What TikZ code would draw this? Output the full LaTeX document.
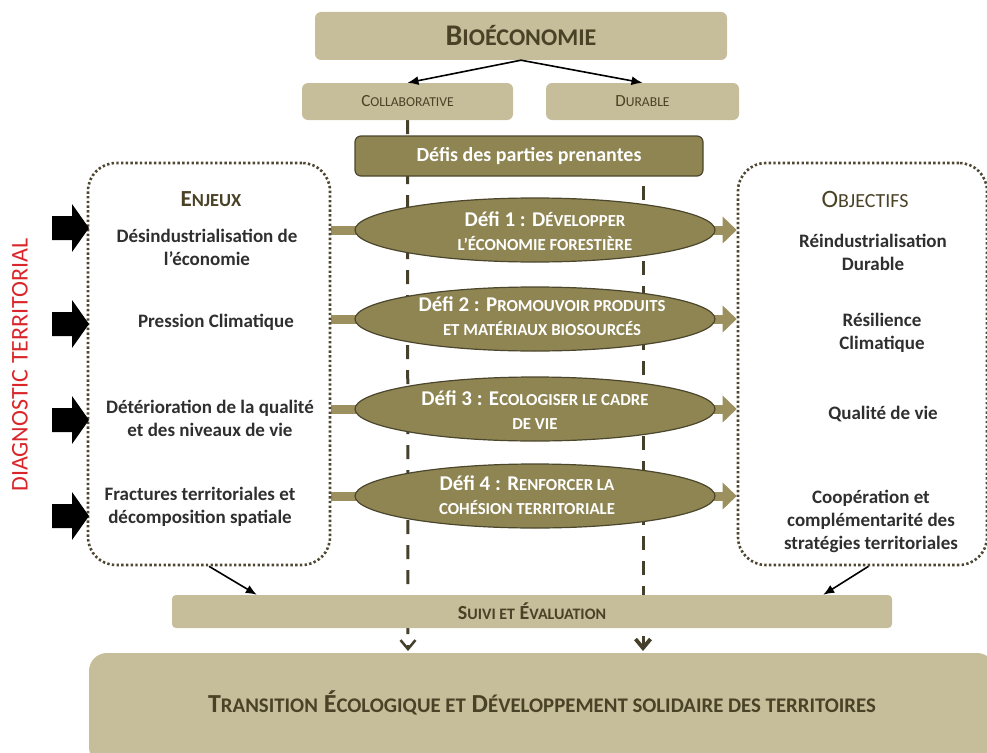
\documentclass[tikz,border=0pt]{standalone}
\usepackage{fontspec}
\setmainfont{Carlito}
\usetikzlibrary{arrows.meta,shapes.geometric,calc,backgrounds}
\makeatletter
\newcommand\smc[1]{{\fontsize{\fpeval{0.8*\f@size}}{\fpeval{0.96*\f@size}}\selectfont #1}}
\makeatother
\definecolor{tanf}{HTML}{C6BD9A}
\definecolor{dtext}{HTML}{4A4226}
\definecolor{olivef}{HTML}{8E8552}
\definecolor{ellb}{HTML}{4B462C}
\definecolor{oarr}{HTML}{9B905E}
\definecolor{dashc}{HTML}{45402C}
\definecolor{dotc}{HTML}{4E4732}
\definecolor{redt}{HTML}{D8262A}
\definecolor{btext}{HTML}{2F2F2F}
\tikzset{
  tanbox/.style={fill=tanf, rounded corners=6pt, inner sep=0pt, text=dtext},
  defbox/.style={fill=olivef, draw=ellb, line width=1.2pt, rounded corners=6pt, inner sep=0pt, text=white, font=\bfseries\fontsize{20}{24}\selectfont},
  dotbox/.style={draw=dotc, line width=2.6pt, dash pattern=on 2.4pt off 2.3pt, rounded corners=28pt, inner sep=0pt},
  defi/.style={ellipse, fill=olivef, draw=ellb, line width=1.2pt, minimum width=360pt, minimum height=64pt, inner sep=0pt},
  deftxt/.style={text=white, font=\bfseries\fontsize{21}{24}\selectfont, align=center, inner sep=0pt},
  body/.style={text=btext, font=\bfseries\fontsize{19}{23}\selectfont, align=center, inner sep=0pt},
  blkarrow/.style={fill=black},
  oarrow/.style={draw=oarr, line width=9pt, -{Triangle[length=14pt,width=26pt]}},
  dashl/.style={draw=dashc, line width=3pt, dash pattern=on 14pt off 11pt},
  blk/.style={draw=black, line width=1.6pt, -{Latex[length=11pt,width=9pt]}},
}
\newcommand\blockarrow[1]{\fill[blkarrow, shift={(#1)}] (-18,-12) -- (2,-12) -- (2,-24) -- (19,0) -- (2,24) -- (2,12) -- (-18,12) -- cycle;}
\begin{document}
\begin{tikzpicture}[x=1pt,y=-1pt]
\useasboundingbox (0,0) rectangle (987,752);
% top boxes
\node[tanbox, minimum width=412pt, minimum height=48pt, font=\bfseries\fontsize{30}{36}\selectfont] (bio) at (521,36) {B\smc{IOÉCONOMIE}};
\node[tanbox, minimum width=211pt, minimum height=37pt, font=\fontsize{17}{20}\selectfont] (collab) at (407.5,101.5) {C\smc{OLLABORATIVE}};
\node[tanbox, minimum width=193pt, minimum height=37pt, font=\fontsize{17}{20}\selectfont] (durable) at (642.5,101.5) {D\smc{URABLE}};
\node[defbox, minimum width=348pt, minimum height=40pt] (defis) at (529,156) {Défis des parties prenantes};
% dotted boxes
\node[dotbox, minimum width=242pt, minimum height=402pt] (lbox) at (209,364) {};
\node[dotbox, minimum width=249pt, minimum height=402pt] (rbox) at (862.5,364) {};
% ellipses
\node[defi] (d1) at (535,230) {};
\node[defi] (d2) at (535,319) {};
\node[defi] (d3) at (535,409) {};
\node[defi] (d4) at (535,496) {};
\node[deftxt] (t1) at (545,231) {Défi 1 : D\smc{ÉVELOPPER}\\\smc{L’ÉCONOMIE FORESTIÈRE}};
\node[deftxt] (t2) at (542,316) {Défi 2 : P\smc{ROMOUVOIR PRODUITS}\\\smc{ET MATÉRIAUX BIOSOURCÉS}};
\node[deftxt] (t3) at (535,410) {Défi 3 : E\smc{COLOGISER LE CADRE}\\\smc{DE VIE}};
\node[deftxt] (t4) at (527,495) {Défi 4 : R\smc{ENFORCER LA}\\\smc{COHÉSION TERRITORIALE}};
% headings
\node[text=dtext, font=\bfseries\fontsize{23}{27}\selectfont] (enj) at (211,199) {E\smc{NJEUX}};
\node[text=dtext, font=\fontsize{25}{29}\selectfont] (obj) at (865,199) {O\smc{BJECTIFS}};
% enjeux
\node[body] (e1) at (207,247) {Désindustrialisation de\\l’économie};
\node[body] (e2) at (216,322) {Pression Climatique};
\node[body] (e3) at (210,418) {Détérioration de la qualité\\et des niveaux de vie};
\node[body] (e4) at (200,507) {Fractures territoriales et\\décomposition spatiale};
% objectifs
\node[body] (o1) at (873,252) {Réindustrialisation\\Durable};
\node[body] (o2) at (882,333) {Résilience\\Climatique};
\node[body] (o3) at (883,414) {Qualité de vie};
\node[body] (o4) at (871,521) {Coopération et\\complémentarité des\\stratégies territoriales};
% black arrows
\blockarrow{70,228}
\blockarrow{70,324}
\blockarrow{70,420}
\blockarrow{70,516}
% red label
\node[rotate=90, text=redt, font=\fontsize{24}{28}\selectfont, inner sep=0pt] (diag) at (20,365) {DIAGNOSTIC TERRITORIAL};
% bottom boxes
\node[tanbox, rounded corners=4pt, minimum width=720pt, minimum height=33pt, font=\bfseries\fontsize{20}{24}\selectfont] (suivi) at (532,611.5) {S\smc{UIVI ET} É\smc{VALUATION}};
\node[tanbox, rounded corners=18pt, minimum width=906pt, minimum height=112pt] (trans) at (542,709) {};
\node[text=dtext, font=\bfseries\fontsize{26}{30}\selectfont, inner sep=0pt] (ttxt) at (542,703) {T\smc{RANSITION} É\smc{COLOGIQUE ET} D\smc{ÉVELOPPEMENT SOLIDAIRE DES TERRITOIRES}};
% coordinates
\coordinate (lbot) at (408,651);
\coordinate (rtop) at (643,186);
\coordinate (rbot) at (643,651);
% connectors
\draw[blk] (bio.south) -- (collab.north);
\draw[blk] (bio.south) -- (durable.north);
\draw[blk] (lbox.south) -- ($(suivi.north west)+(85,0)$);
\draw[blk] ($(rbox.south)+(6,0)$) -- ($(suivi.north east)+(-69,0)$);
\begin{pgfonlayer}{background}
\draw[dashl, -{Straight Barb[length=9pt,width=15pt,line width=2.5pt]}] (collab.south) -- (lbot);
\draw[dashl, -{Straight Barb[length=9pt,width=15pt,line width=3.8pt]}] (rtop) -- (rbot);
\foreach \d in {d1,d2,d3,d4}
  \draw[oarrow] (lbox.east |- \d.center) -- (rbox.west |- \d.center);
\end{pgfonlayer}
\end{tikzpicture}
\end{document}
